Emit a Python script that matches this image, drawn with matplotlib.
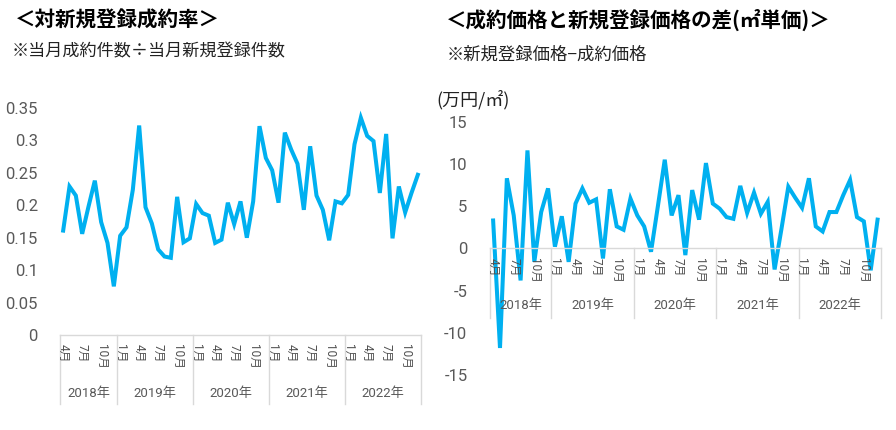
import numpy as np
import matplotlib
matplotlib.use('Agg')
import matplotlib.pyplot as plt

plt.rcParams['font.family'] = ['Roboto', 'Noto Sans CJK JP', 'DejaVu Sans']
plt.rcParams['axes.unicode_minus'] = False

# 2018年4月 ～ 2022年12月
years = ['2018年', '2019年', '2020年', '2021年', '2022年']
months = [4, 5, 6, 7, 8, 9, 10, 11, 12] + list(range(1, 13)) * 4

# 対新規登録成約率
rate = [0.161, 0.229, 0.215, 0.156, 0.198, 0.238, 0.174, 0.142, 0.075,
        0.153, 0.166, 0.224, 0.323, 0.197, 0.172, 0.132, 0.121, 0.119, 0.213, 0.143, 0.149,
        0.202, 0.188, 0.184, 0.142, 0.147, 0.204, 0.171, 0.206, 0.150, 0.206, 0.322, 0.273,
        0.254, 0.204, 0.312, 0.286, 0.264, 0.193, 0.291, 0.215, 0.193, 0.146, 0.206, 0.203,
        0.216, 0.294, 0.335, 0.307, 0.299, 0.219, 0.310, 0.149, 0.229, 0.189, 0.219, 0.247]

# 新規登録価格−成約価格 (万円/㎡)
diff = [3.3, -11.8, 8.3, 3.9, -3.8, 11.6, -1.6, 4.3, 7.1,
        0.2, 3.8, -1.6, 5.3, 7.1, 5.4, 5.8, -1.2, 7.0, 2.6, 2.2, 5.9,
        3.9, 2.6, -0.4, 5.0, 10.5, 3.9, 6.3, -0.8, 6.9, 3.4, 10.1, 5.3,
        4.7, 3.7, 3.5, 7.4, 4.2, 6.6, 4.1, 5.5, -2.5, 2.3, 7.3, 6.0,
        4.8, 8.3, 2.6, 2.0, 4.3, 4.3, 6.3, 8.1, 3.7, 3.2, -2.6, 3.4]

LINE_COLOR = '#00B0F0'
TEXT_GRAY = '#595959'
BOX_GRAY = '#D9D9D9'
CJK = ['Noto Sans CJK JP', 'DejaVu Sans']

fig = plt.figure(figsize=(8.96, 4.3), dpi=100)


def draw_category_box(ax, y0, depth_px, label_px, year_px):
    """Excel風の年/月の2段カテゴリ軸"""
    ymin, ymax = ax.get_ylim()
    h_px = ax.get_position().height * fig.get_figheight() * fig.dpi
    top = (y0 - ymin) / (ymax - ymin)
    bottom = top - depth_px / h_px
    trans = matplotlib.transforms.blended_transform_factory(ax.transData, ax.transAxes)
    n = len(months)
    ax.plot([-0.5, n - 0.5], [top, top], color=BOX_GRAY, lw=1, transform=trans, clip_on=False)
    # year boundaries
    bounds = [-0.5] + [i - 0.5 for i in range(1, n) if months[i] == 1] + [n - 0.5]
    for b in bounds:
        ax.plot([b, b], [top, bottom], color=BOX_GRAY, lw=1, transform=trans, clip_on=False)
    for i, m in enumerate(months):
        if m in (1, 4, 7, 10):
            ax.annotate(f'{m}月', (i, top), xycoords=trans, xytext=(0, -label_px * 0.72),
                        textcoords='offset points', rotation=270, ha='center', va='top',
                        fontsize=8.5, color='#505050')
    for k in range(len(bounds) - 1):
        xc = (bounds[k] + bounds[k + 1]) / 2
        ax.annotate(years[k], (xc, top), xycoords=trans, xytext=(0, -year_px * 0.72),
                    textcoords='offset points', ha='center', va='center',
                    fontsize=9.5, color=TEXT_GRAY)


x = np.arange(len(months))

# 左: 対新規登録成約率
ax1 = fig.add_axes([60 / 896, 95 / 430, 361 / 896, 227 / 430])
ax1.plot(x, rate, color=LINE_COLOR, lw=2.9, solid_joinstyle='miter')
ax1.set_xlim(-0.5, len(months) - 0.5)
ax1.set_ylim(0, 0.35)
ax1.set_yticks(np.arange(0, 0.351, 0.05))
ax1.set_yticklabels(['0', '0.05', '0.1', '0.15', '0.2', '0.25', '0.3', '0.35'])
ax1.set_xticks([])
ax1.tick_params(axis='y', length=0, pad=16, labelsize=12, labelcolor=TEXT_GRAY)
for s in ax1.spines.values():
    s.set_visible(False)
draw_category_box(ax1, 0, 69, 9, 58)

# 右: 成約価格と新規登録価格の差
ax2 = fig.add_axes([489.7 / 896, 55 / 430, 391.3 / 896, 253.3 / 430])
ax2.plot(x, diff, color=LINE_COLOR, lw=2.9, solid_joinstyle='miter')
ax2.set_xlim(-0.5, len(months) - 0.5)
ax2.set_ylim(-15, 15)
ax2.set_yticks(np.arange(-15, 16, 5))
ax2.set_xticks([])
ax2.tick_params(axis='y', length=0, pad=16, labelsize=12, labelcolor=TEXT_GRAY)
for s in ax2.spines.values():
    s.set_visible(False)
draw_category_box(ax2, 0, 70, 10, 57)

# タイトル類
fig.text(15 / 896, 1 - 20 / 430, '＜対新規登録成約率＞', fontsize=14.8, fontweight='bold',
         family=CJK, va='center', ha='left')
fig.text(12 / 896, 1 - 51 / 430, '※当月成約件数÷当月新規登録件数', fontsize=12.3,
         family=CJK, va='center', ha='left', color='#222222')
fig.text(446 / 896, 1 - 20 / 430, '＜成約価格と新規登録価格の差(㎡単価)＞', fontsize=14.8,
         fontweight='bold', family=CJK, va='center', ha='left')
fig.text(447 / 896, 1 - 55 / 430, '※新規登録価格−成約価格', fontsize=12.5,
         family=CJK, va='center', ha='left', color='#222222')
fig.text(436 / 896, 1 - 100 / 430, '(万円/㎡)', fontsize=13, family=CJK,
         va='center', ha='left', color='#222222')

plt.savefig('out.png', dpi=100)
